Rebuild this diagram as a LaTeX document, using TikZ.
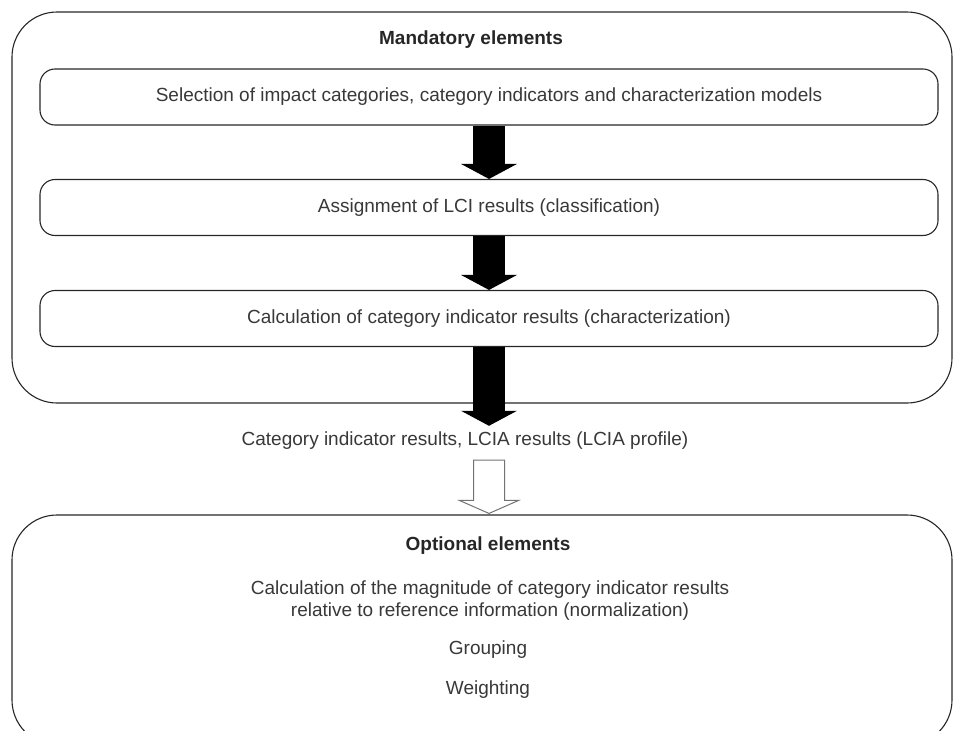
\documentclass[tikz,border=0pt]{standalone}
\usepackage{fontspec}
\setmainfont{Liberation Sans}
\usetikzlibrary{arrows.meta,calc,positioning}
\definecolor{txtgray}{HTML}{383838}
\definecolor{linegray}{HTML}{262626}
\tikzset{
  bigbox/.style={draw=linegray,line width=1.1pt,rounded corners=45pt,inner sep=0pt},
  stepbox/.style={draw=linegray,line width=1.1pt,rounded corners=15pt,minimum width=898pt,minimum height=56pt,inner sep=0pt,text=txtgray},
  fatarrow/.style={black,line width=32pt,-{Triangle[width=56pt,length=15pt,line width=0pt]}},
  hollow/.style={draw=black!55,fill=white,line width=1pt,line join=miter},
  lbl/.style={text=txtgray,inner sep=0pt},
  ttl/.style={text=black!85,inner sep=0pt,font=\fontsize{19}{23}\selectfont\bfseries}
}
\begin{document}
\begin{tikzpicture}[x=1pt,y=-1pt,font=\fontsize{19}{23}\selectfont]
\useasboundingbox (0,0) rectangle (954,731);
% outer frames
\node[bigbox,minimum width=940pt,minimum height=391pt] (mand) at (482,207.5) {};
\node[bigbox,minimum width=940pt,minimum height=230pt] (opt) at (482,630) {};
\node[ttl] (mtitle) at (471,40) {Mandatory elements};
\node[ttl] (otitle) at (488,546) {Optional elements};
% mandatory steps
\node[stepbox] (sel) at (489,97) {Selection of impact categories, category indicators and characterization models};
\node[stepbox] (asg) at (489,207.5) {Assignment of LCI results (classification)};
\node[stepbox] (chr) at (489,318.5) {Calculation of category indicator results (characterization)};
\node[lbl,text height=13pt,text depth=4pt,inner ysep=6.5pt] (res) at (465,441) {Category indicator results, LCIA results (LCIA profile)};
% optional steps
\node[lbl,align=center,font=\fontsize{19}{22}\selectfont] (norm) at (490,601) {Calculation of the magnitude of category indicator results\\relative to reference information (normalization)};
\node[lbl] (grp) at (488,650) {Grouping};
\node[lbl] (wgt) at (488,690) {Weighting};
% arrows
\draw[fatarrow] (sel.south) -- (asg.north);
\draw[fatarrow] (asg.south) -- (chr.north);
\draw[fatarrow] (chr.south) -- (chr.south |- res.north);
\coordinate (ht) at ($(chr.south |- res.south)+(0,4)$);
\coordinate (hb) at (chr.south |- opt.north);
\draw[hollow] ($(ht)+(-15.5,0)$) -- ($(ht)+(15.5,0)$) -- ($(hb)+(15.5,-14)$) -- ($(hb)+(29.5,-14)$)
  -- ($(hb)+(0,-1)$) -- ($(hb)+(-29.5,-14)$) -- ($(hb)+(-15.5,-14)$) -- cycle;
\end{tikzpicture}
\end{document}
